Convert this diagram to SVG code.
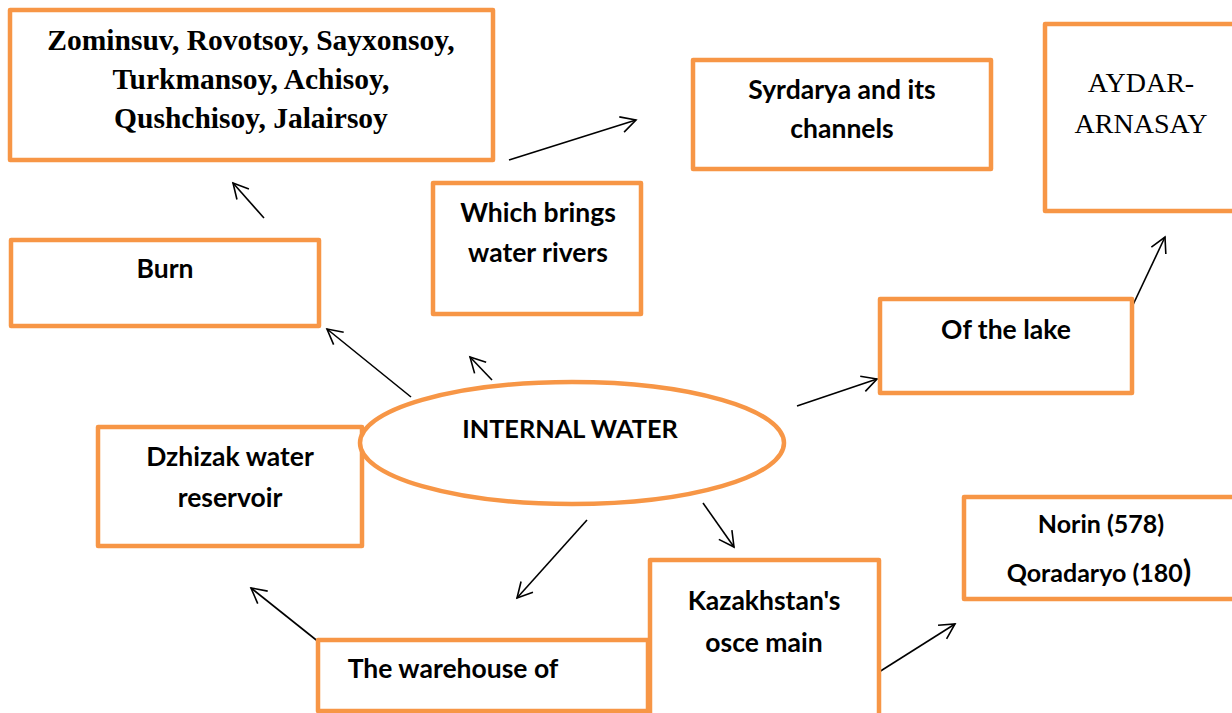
<svg xmlns="http://www.w3.org/2000/svg" width="1232" height="713" viewBox="0 0 1232 713">
<style>
.box{fill:#fff;stroke:#F79646;stroke-width:4.5;stroke-linejoin:round}
.t{font-family:Lato,"Liberation Sans",sans-serif;font-weight:bold;font-size:26.5px;fill:#000;text-anchor:middle}
.s{font-family:"Liberation Serif",serif;font-size:29.5px;font-weight:bold;fill:#000;text-anchor:middle}
.a{stroke:#000;stroke-width:1.6;fill:none;marker-end:url(#ah)}
</style>
<defs>
<marker id="ah" markerUnits="userSpaceOnUse" markerWidth="30" markerHeight="30" refX="0" refY="0" viewBox="-20 -15 30 30" orient="auto" overflow="visible">
<path d="M-15,-8 L0,0 L-15,8" fill="none" stroke="#000" stroke-width="1.6"/>
</marker>
</defs>
<rect width="1232" height="713" fill="#fff"/>
<g id="connectors">
<line class="a" x1="509" y1="160" x2="636" y2="120"/>
<line class="a" x1="264" y1="218" x2="233" y2="183"/>
<line class="a" x1="411" y1="397" x2="327" y2="329"/>
<line class="a" x1="492" y1="380" x2="470" y2="357"/>
<line class="a" x1="797" y1="406" x2="877" y2="379"/>
<line class="a" x1="1123" y1="326" x2="1165" y2="237"/>
<line class="a" x1="703" y1="503" x2="734" y2="547"/>
<line class="a" x1="587" y1="520" x2="517" y2="598"/>
<line class="a" x1="320" y1="643" x2="251" y2="588"/>
<line class="a" x1="879" y1="672" x2="955" y2="624"/>
</g>
<g id="zominsuv">
<rect class="box" x="10" y="10" width="483" height="150"/>
<text class="s" x="251" y="50">Zominsuv, Rovotsoy, Sayxonsoy,</text>
<text class="s" x="251" y="89">Turkmansoy, Achisoy,</text>
<text class="s" x="251" y="128">Qushchisoy, Jalairsoy</text>
</g>
<g id="syrdarya">
<rect class="box" x="693" y="60" width="298" height="109"/>
<text class="t" x="842" y="99">Syrdarya and its</text>
<text class="t" x="842" y="138">channels</text>
</g>
<g id="aydar">
<rect class="box" x="1045" y="24" width="200" height="187"/>
<text x="1141" y="92" font-family="Liberation Serif,serif" font-size="28" text-anchor="middle">AYDAR-</text>
<text x="1141" y="133" font-family="Liberation Serif,serif" font-size="28" text-anchor="middle">ARNASAY</text>
</g>
<g id="which">
<rect class="box" x="433" y="183" width="208" height="131"/>
<text class="t" x="538" y="222">Which brings</text>
<text class="t" x="538" y="262">water rivers</text>
</g>
<g id="burn">
<rect class="box" x="11" y="240" width="308" height="86"/>
<text class="t" x="165" y="278">Burn</text>
</g>
<g id="lake">
<rect class="box" x="880" y="299" width="252" height="94"/>
<text class="t" x="1006" y="339">Of the lake</text>
</g>
<g id="dzhizak">
<rect class="box" x="98" y="427" width="264" height="119"/>
<text class="t" x="230" y="466">Dzhizak water</text>
<text class="t" x="230" y="507">reservoir</text>
</g>
<g id="internal">
<ellipse cx="572" cy="443" rx="212" ry="61" fill="#fff" stroke="#F79646" stroke-width="4.5"/>
<text class="t" x="570" y="438" style="font-size:25.3px">INTERNAL WATER</text>
</g>
<g id="warehouse">
<rect class="box" x="318" y="640" width="330" height="71"/>
<text class="t" x="453" y="678">The warehouse of</text>
</g>
<g id="kazakhstan">
<rect class="box" x="650" y="560" width="229" height="170"/>
<text class="t" x="764" y="610">Kazakhstan's</text>
<text class="t" x="764" y="652">osce main</text>
</g>
<g id="norin">
<rect class="box" x="964" y="497" width="280" height="102"/>
<text class="t" x="1101" y="533" style="font-size:25px">Norin (578)</text>
<text class="t" x="1099" y="582" style="font-size:25px">Qoradaryo (180<tspan style="font-size:31px">)</tspan></text>
</g>
</svg>
